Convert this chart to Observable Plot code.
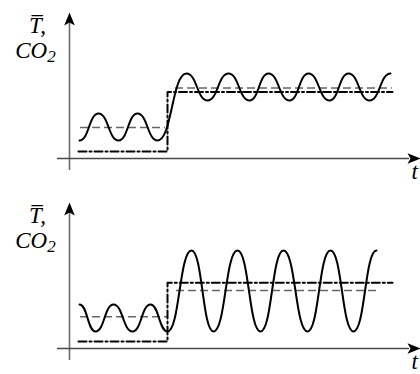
<!DOCTYPE html>
<html><head><meta charset="utf-8">
<script src="https://cdn.jsdelivr.net/npm/d3@7"></script>
<script src="https://cdn.jsdelivr.net/npm/@observablehq/plot@0.6"></script>
<style>body{margin:0;background:#fff} #chart svg{display:block}</style>
</head><body><div id="chart"></div>
<script>
// Axis labels
const yLabels = ["T\u0305,", "CO2"];
const xLabel = "t";

// Top panel: temperature oscillation (extrema, time t / value v, origin at axes crossing)
const topWaveT = [10, 29, 49, 68, 88, 117, 138, 159, 180, 199, 220, 239, 260, 279, 300, 321];
const topWaveV = [18, 45, 18, 45, 18, 85, 58, 85, 58, 85, 58, 85, 58, 85, 58, 85];
// Top panel: mean temperature segments
const topMeanT1 = [11, 106];
const topMeanT2 = [96, 323];
const topMeanV = [31, 70.5];
// Top panel: CO2 step
const topCo2T = [9, 98, 98, 323];
const topCo2V = [7, 7, 66.5, 66.5];

// Bottom panel: temperature oscillation
const botWaveT = [10, 26, 44, 63, 81, 98, 122, 144, 168, 191, 214, 238, 261, 284, 307];
const botWaveV = [44, 17, 44, 17, 44, 17, 98, 17, 98, 17, 98, 17, 98, 17, 98];
// Bottom panel: mean temperature segments
const botMeanT1 = [11, 107];
const botMeanT2 = [98, 308];
const botMeanV = [31.7, 58];
// Bottom panel: CO2 step
const botCo2T = [9, 98, 98, 323];
const botCo2V = [7, 7, 65.7, 65.7];

// Axis extents
const axisY = [-12, 137, 146]; // bottom, line end, arrow tip
const axisX = [-12, 340, 351];

const zip = (a, b) => a.map((t, i) => ({t, v: b[i]}));

const stealth = {
  draw(ctx, size) {
    const s = Math.sqrt(size / Math.PI) / 10;
    ctx.moveTo(0, 0);
    ctx.lineTo(-5.3 * s, 13 * s);
    ctx.lineTo(0, 10 * s);
    ctx.lineTo(5.3 * s, 13 * s);
    ctx.closePath();
  }
};

function panel(waveT, waveV, mT1, mT2, mV, cT, cV, yDomain) {
  const means = mV.map((v, i) => ({x1: mT1[i], x2: mT2[i], v}));
  const fs = 23;
  const font = {fontSize: fs, fontFamily: "'Liberation Serif', serif", fontStyle: "italic", fill: "#000"};
  const svg = Plot.plot({
    width: 420, height: 187,
    margin: 0,
    x: {domain: [-69, 351], axis: null},
    y: {domain: yDomain, axis: null},
    style: {background: "#fff", overflow: "hidden"},
    marks: [
      Plot.ruleX([0], {y1: axisY[0], y2: axisY[1], stroke: "#6a6a6a", strokeWidth: 1.6}),
      Plot.ruleY([0], {x1: axisX[0], x2: axisX[1], stroke: "#4a4a4a", strokeWidth: 1.4}),
      Plot.dot([{t: 0, v: axisY[2], r: 0}, {t: axisX[2], v: 0, r: 90}],
        {x: "t", y: "v", rotate: "r", symbol: stealth, r: 10, fill: "#000", stroke: "none"}),
      Plot.ruleY(means, {x1: "x1", x2: "x2", y: "v", stroke: "#666", strokeWidth: 1.5, strokeDasharray: "8,4"}),
      Plot.line(zip(cT, cV), {x: "t", y: "v", stroke: "#000", strokeWidth: 2, strokeDasharray: "8,3,2,3"}),
      Plot.line(zip(waveT, waveV), {x: "t", y: "v", curve: "bump-x", stroke: "#000", strokeWidth: 2}),
      Plot.text([yLabels[0]], {x: -32, y: 126 + 0.32 * fs, text: d => d, textAnchor: "middle", ...font}),
      Plot.text([yLabels[1]], {x: -34, y: 101 + 0.32 * fs, text: d => d, textAnchor: "middle", ...font}),
      Plot.text([xLabel], {x: 342, y: -20 + 0.32 * fs, text: d => d, textAnchor: "start", ...font})
    ]
  });
  // render the "2" of CO2 as a subscript
  d3.select(svg).selectAll("text").filter(function() { return this.textContent === yLabels[1]; })
    .each(function() {
      const t = d3.select(this);
      t.text("");
      t.append("tspan").text("CO");
      t.append("tspan").attr("dy", "0.28em").attr("font-size", "0.74em").text("2");
    });
  return svg;
}

const el = document.getElementById("chart");
el.append(panel(topWaveT, topWaveV, topMeanT1, topMeanT2, topMeanV, topCo2T, topCo2V, [-29, 158]));
el.append(panel(botWaveT, botWaveV, botMeanT1, botMeanT2, botMeanV, botCo2T, botCo2V, [-26, 161]));
</script>
</body></html>
